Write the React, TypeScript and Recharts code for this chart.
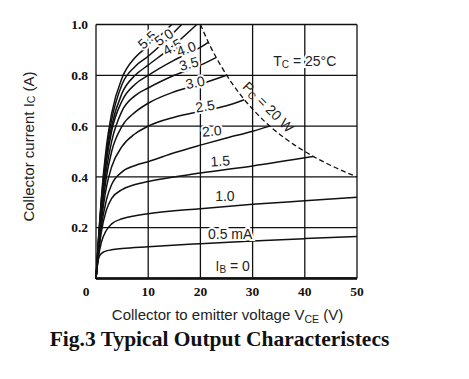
import React from 'react';
import { LineChart, Line, CartesianGrid, XAxis, YAxis, ReferenceDot, Label } from 'recharts';

type Pt = { v: number; i: number };

// Base current curves, IB in mA (VCE in V, IC in A)
const IB_0: Pt[] = [{ v: 0, i: 0 }, { v: 50, i: 0.002 }];
const IB_05: Pt[] = [
  { v: 0, i: 0 }, { v: 0.3, i: 0.06 }, { v: 0.7, i: 0.09 }, { v: 1.5, i: 0.105 }, { v: 3, i: 0.113 },
  { v: 5, i: 0.118 }, { v: 10, i: 0.125 }, { v: 20, i: 0.137 }, { v: 30, i: 0.148 }, { v: 40, i: 0.157 }, { v: 50, i: 0.165 },
];
const IB_10: Pt[] = [
  { v: 0, i: 0 }, { v: 0.5, i: 0.09 }, { v: 1, i: 0.14 }, { v: 2, i: 0.19 }, { v: 3, i: 0.215 }, { v: 5, i: 0.235 },
  { v: 7.5, i: 0.247 }, { v: 10, i: 0.255 }, { v: 20, i: 0.275 }, { v: 30, i: 0.292 }, { v: 40, i: 0.306 }, { v: 50, i: 0.32 },
];
const IB_15: Pt[] = [
  { v: 0, i: 0 }, { v: 0.5, i: 0.1 }, { v: 1, i: 0.18 }, { v: 2, i: 0.27 }, { v: 3, i: 0.315 }, { v: 5, i: 0.35 },
  { v: 7.5, i: 0.37 }, { v: 10, i: 0.382 }, { v: 20, i: 0.415 }, { v: 30, i: 0.443 }, { v: 41.6, i: 0.48 },
];
const IB_20: Pt[] = [
  { v: 0, i: 0 }, { v: 0.5, i: 0.11 }, { v: 1, i: 0.2 }, { v: 2, i: 0.31 }, { v: 3, i: 0.37 }, { v: 5, i: 0.42 },
  { v: 7.5, i: 0.445 }, { v: 10, i: 0.46 }, { v: 15, i: 0.495 }, { v: 20, i: 0.525 }, { v: 25, i: 0.553 },
  { v: 30, i: 0.58 }, { v: 33.3, i: 0.6 },
];
const IB_25: Pt[] = [
  { v: 0, i: 0 }, { v: 0.5, i: 0.12 }, { v: 1, i: 0.22 }, { v: 2, i: 0.36 }, { v: 3, i: 0.44 }, { v: 5, i: 0.52 },
  { v: 7.5, i: 0.57 }, { v: 10, i: 0.6 }, { v: 15, i: 0.635 }, { v: 20, i: 0.658 }, { v: 25, i: 0.68 }, { v: 28.4, i: 0.704 },
];
const IB_30: Pt[] = [
  { v: 0, i: 0 }, { v: 0.5, i: 0.13 }, { v: 1, i: 0.24 }, { v: 2, i: 0.4 }, { v: 3, i: 0.5 }, { v: 5, i: 0.6 },
  { v: 7.5, i: 0.655 }, { v: 10, i: 0.69 }, { v: 15, i: 0.735 }, { v: 20, i: 0.765 }, { v: 25, i: 0.8 },
];
const IB_35: Pt[] = [
  { v: 0, i: 0 }, { v: 0.5, i: 0.14 }, { v: 1, i: 0.26 }, { v: 2, i: 0.43 }, { v: 3, i: 0.54 }, { v: 5, i: 0.66 },
  { v: 7.5, i: 0.72 }, { v: 10, i: 0.75 }, { v: 15, i: 0.8 }, { v: 20, i: 0.84 }, { v: 23, i: 0.87 },
];
const IB_40: Pt[] = [
  { v: 0, i: 0 }, { v: 0.5, i: 0.15 }, { v: 1, i: 0.28 }, { v: 2, i: 0.46 }, { v: 3, i: 0.58 }, { v: 5, i: 0.7 },
  { v: 7.5, i: 0.765 }, { v: 10, i: 0.8 }, { v: 15, i: 0.86 }, { v: 20, i: 0.91 }, { v: 21.5, i: 0.93 },
];
const IB_45: Pt[] = [
  { v: 0, i: 0 }, { v: 0.5, i: 0.155 }, { v: 1, i: 0.29 }, { v: 2, i: 0.48 }, { v: 3, i: 0.6 }, { v: 5, i: 0.73 },
  { v: 7.5, i: 0.8 }, { v: 10, i: 0.84 }, { v: 15, i: 0.92 }, { v: 19.3, i: 1.0 },
];
const IB_50: Pt[] = [
  { v: 0, i: 0 }, { v: 0.5, i: 0.16 }, { v: 1, i: 0.3 }, { v: 2, i: 0.5 }, { v: 3, i: 0.625 }, { v: 5, i: 0.765 },
  { v: 7.5, i: 0.835 }, { v: 10, i: 0.875 }, { v: 13, i: 0.93 }, { v: 16.4, i: 1.0 },
];
const IB_55: Pt[] = [
  { v: 0, i: 0 }, { v: 0.5, i: 0.165 }, { v: 1, i: 0.31 }, { v: 2, i: 0.52 }, { v: 3, i: 0.65 }, { v: 5, i: 0.79 },
  { v: 7.5, i: 0.87 }, { v: 10, i: 0.915 }, { v: 12.5, i: 0.96 }, { v: 14.5, i: 1.0 },
];

// Pc = 20 W limit (dashed)
const PC_LIMIT: Pt[] = [
  { v: 20, i: 1.0 }, { v: 22, i: 0.91 }, { v: 24, i: 0.835 }, { v: 26, i: 0.77 }, { v: 28, i: 0.715 },
  { v: 30, i: 0.667 }, { v: 33, i: 0.605 }, { v: 36, i: 0.555 }, { v: 40, i: 0.5 }, { v: 45, i: 0.445 }, { v: 50, i: 0.4 },
];

const CURVES = [IB_0, IB_05, IB_10, IB_15, IB_20, IB_25, IB_30, IB_35, IB_40, IB_45, IB_50, IB_55];

const X_TICKS = [0, 10, 20, 30, 40, 50];
const Y_TICKS = [0.2, 0.4, 0.6, 0.8, 1.0];

// curve labels: text, anchor (V, I), rotation
const CURVE_LABELS: { text: string; v: number; i: number; rot: number }[] = [
  { text: '5.5', v: 9.8, i: 0.94, rot: -42 },
  { text: '5.0', v: 13.0, i: 0.95, rot: -35 },
  { text: '4.5', v: 14.6, i: 0.912, rot: -30 },
  { text: '4.0', v: 17.3, i: 0.905, rot: -20 },
  { text: '3.5', v: 17.8, i: 0.846, rot: -15 },
  { text: '3.0', v: 19.0, i: 0.772, rot: -12 },
  { text: '2.5', v: 20.9, i: 0.679, rot: -9 },
  { text: '2.0', v: 22.2, i: 0.581, rot: -5 },
  { text: '1.5', v: 23.8, i: 0.463, rot: -3 },
  { text: '1.0', v: 24.7, i: 0.325, rot: 0 },
  { text: '0.5 mA', v: 25.7, i: 0.175, rot: 0 },
];

const SANS = 'Liberation Sans, Arial, sans-serif';
const SERIF = 'Liberation Serif, Times New Roman, serif';
const INK = '#111';

const XTick = (props: any) => {
  const { x, y, payload } = props;
  return (
    <text x={payload.value === 0 ? x - 10 : x} y={y + 9} textAnchor="middle" fontFamily={SERIF}
      fontWeight="bold" fontSize={13.5} fill={INK}>
      {payload.value}
    </text>
  );
};

const halo = { stroke: '#fff', strokeWidth: 4, paintOrder: 'stroke' as const };

export default function App() {
  return (
    <div style={{ width: 461, height: 371, background: '#fff' }}>
      <LineChart width={461} height={371} margin={{ top: 16.5, right: 112, left: 48, bottom: 70.5 }}>
        <CartesianGrid stroke={INK} strokeWidth={1.3} />
        <XAxis dataKey="v" type="number" domain={[0, 50]} ticks={X_TICKS} height={30}
          axisLine={{ stroke: INK, strokeWidth: 2.5 }} tickLine={false} tick={<XTick />}>
          <Label content={(p: any) => {
            const vb = p.viewBox;
            const cx = vb.x + vb.width / 2;
            return (
              <g>
                <text x={cx + 1} y={vb.y + 41} textAnchor="middle" fontFamily={SANS} fontSize={15} fill="#222">
                  Collector to emitter voltage  V<tspan fontSize={10.5} dy={3}>CE</tspan>
                  <tspan dy={-3}>  (V)</tspan>
                </text>
                <text x={cx - 7} y={vb.y + 67} textAnchor="middle" fontFamily={SERIF} fontWeight="bold"
                  fontSize={21.5} fill={INK}>
                  Fig.3 Typical Output Characteristecs
                </text>
              </g>
            );
          }} />
        </XAxis>
        <YAxis type="number" domain={[0, 1]} ticks={Y_TICKS} width={40} axisLine={false} tickLine={false}
          tickFormatter={(v: number) => v.toFixed(1)}
          tick={{ fontFamily: SERIF, fontWeight: 'bold', fontSize: 13.5, fill: INK }}>
          <Label content={(p: any) => {
            const vb = p.viewBox;
            const cx = 20;
            const cy = vb.y + vb.height / 2 - 5;
            return (
              <text x={cx} y={cy} textAnchor="middle" dominantBaseline="central" fontFamily={SANS} fontSize={15}
                fill="#222" transform={`rotate(-90 ${cx} ${cy})`}>
                Collector current  I<tspan fontSize={10.5} dy={3}>C</tspan>
                <tspan dy={-3}>  (A)</tspan>
              </text>
            );
          }} />
        </YAxis>
        {CURVES.map((d, k) => (
          <Line key={k} data={d} dataKey="i" type="monotone" dot={false} stroke={INK} strokeWidth={1.5}
            isAnimationActive={false} />
        ))}
        <Line data={PC_LIMIT} dataKey="i" type="monotone" dot={false} stroke={INK} strokeWidth={1.3}
          strokeDasharray="5 3" isAnimationActive={false} />
        {CURVE_LABELS.map((l) => (
          <ReferenceDot key={l.text} x={l.v} y={l.i} r={0} shape={(p: any) => (
            <text x={p.cx} y={p.cy} textAnchor="middle" dominantBaseline="central" fontFamily={SANS}
              fontSize={14} fill="#222" transform={`rotate(${l.rot} ${p.cx} ${p.cy})`} {...halo}>
              {l.text}
            </text>
          )} />
        ))}
        <ReferenceDot x={26.2} y={0.049} r={0} shape={(p: any) => (
          <text x={p.cx} y={p.cy} textAnchor="middle" dominantBaseline="central" fontFamily={SANS} fontSize={14}
            fill="#222" {...halo}>
            I<tspan fontSize={10} dy={3}>B</tspan><tspan dy={-3}> = 0</tspan>
          </text>
        )} />
        <ReferenceDot x={40} y={0.856} r={0} shape={(p: any) => (
          <text x={p.cx} y={p.cy} textAnchor="middle" dominantBaseline="central" fontFamily={SANS} fontSize={14}
            fill="#222" {...halo}>
            T<tspan fontSize={10} dy={3}>C</tspan><tspan dy={-3}> = 25°C</tspan>
          </text>
        )} />
        <ReferenceDot x={33} y={0.675} r={0} shape={(p: any) => (
          <text x={p.cx} y={p.cy} textAnchor="middle" dominantBaseline="central" fontFamily={SANS} fontSize={14}
            fill="#222" transform={`rotate(45 ${p.cx} ${p.cy})`}>
            P<tspan fontSize={10} dy={3}>C</tspan><tspan dy={-3}> = 20 W</tspan>
          </text>
        )} />
      </LineChart>
    </div>
  );
}
